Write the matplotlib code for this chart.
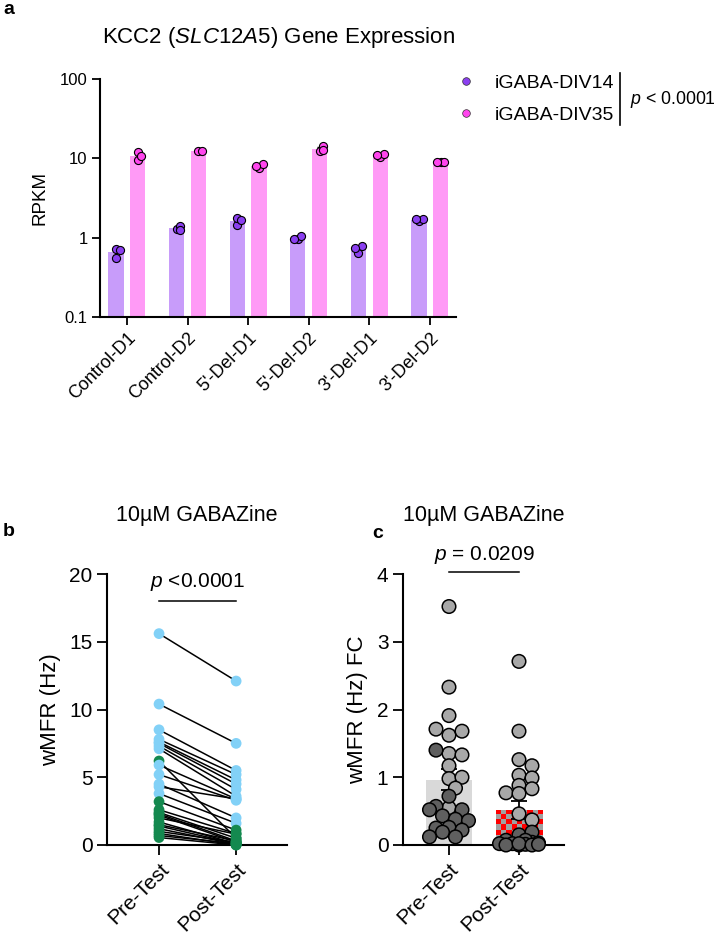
import numpy as np
import matplotlib
matplotlib.use('Agg')
import matplotlib.pyplot as plt
from matplotlib.lines import Line2D

plt.rcParams['font.family'] = ['Liberation Sans', 'DejaVu Sans']
plt.rcParams['mathtext.fontset'] = 'custom'
plt.rcParams['mathtext.rm'] = 'Liberation Sans'
plt.rcParams['mathtext.it'] = 'Liberation Sans:italic'

# ---- panel a : KCC2 expression (RPKM) ----
lines_a = ['Control-D1', 'Control-D2', "5'-Del-D1", "5'-Del-D2", "3'-Del-D1", "3'-Del-D2"]
div14 = [[0.73, 0.70, 0.56],
         [1.29, 1.41, 1.25],
         [1.45, 1.79, 1.68],
         [0.955, 1.05, 0.955],
         [0.65, 0.785, 0.74],
         [1.64, 1.71, 1.71]]
div35 = [[11.9, 9.4, 10.6],
         [12.3, 12.5],
         [7.56, 8.5, 7.9],
         [12.3, 14.5, 12.6],
         [10.4, 11.5, 11.1],
         [9.0, 9.1, 9.1]]

# ---- panel b : paired wMFR (Hz), pre vs post ----
pre_b = [15.6, 10.4, 8.5, 7.8, 7.6, 7.5, 7.3, 7.1, 6.2, 5.9, 5.2, 4.5, 4.3, 3.8,
         3.2, 2.6, 2.4, 2.3, 2.2, 2.0, 1.7, 1.5, 1.4, 1.2, 1.0, 0.85, 0.7, 0.55]
post_b = [12.1, 7.5, 5.5, 5.2, 4.8, 4.5, 4.1, 3.6, 0.5, 3.4, 3.3, 2.0, 3.4, 1.6,
          1.1, 0.85, 0.5, 0.3, 0.2, 0.8, 0.1, 0.3, 0.1, 0.05, 0.2, 0.0, 0.1, 0.0]
pre_b_grp = ['B'] * 8 + ['G'] + ['B'] * 5 + ['G'] * 14
post_b_grp = ['B'] * 8 + ['G'] + ['B'] * 5 + ['G'] * 14

# ---- panel c : wMFR fold change ----
pre_c_light = [3.52, 2.33, 1.91, 1.62, 1.68, 1.71, 1.35, 1.33, 1.17, 0.98, 1.00, 0.84, 0.55]
pre_c_dark = [1.40, 0.72, 0.52, 0.57, 0.52, 0.43, 0.38, 0.36, 0.26, 0.25, 0.22, 0.19, 0.12, 0.12]
post_c_light = [2.71, 1.68, 1.26, 1.17, 1.03, 0.99, 0.88, 0.83, 0.77, 0.76, 0.46, 0.37]
post_c_dark = [0.15, 0.19, 0.07, 0.04, 0.07, 0.0, 0.02, 0.02, 0.03, 0.01, 0.0, 0.02, 0.0, 0.01]

cond = ['Pre-Test', 'Post-Test']

W, H = 720, 933
fig = plt.figure(figsize=(W / 100, H / 100), dpi=100)


def px_axes(l, t, r, b):
    return fig.add_axes([l / W, 1 - b / H, (r - l) / W, (b - t) / H])


def style(ax, size, tlen):
    for s in ['top', 'right']:
        ax.spines[s].set_visible(False)
    for s in ['left', 'bottom']:
        ax.spines[s].set_linewidth(1.5)
    ax.tick_params(direction='out', length=tlen, width=1.3, labelsize=size, pad=3)


def swarm(ax, xc, vals, d, step, kmax):
    # simple beeswarm in display pixels
    pts = ax.transData.transform(np.column_stack([np.full(len(vals), xc), vals]))
    placed = []
    xs = []
    for px, py in pts:
        best, bestd = px, -1
        for k in [0] + [s * i for i in range(1, kmax + 1) for s in (1, -1)]:
            cx = px + k * step
            md = min([np.hypot(cx - qx, py - qy) for qx, qy in placed] + [1e9])
            if md >= d:
                best = cx
                break
            if md > bestd:
                best, bestd = cx, md
        placed.append((best, py))
        xs.append(best)
    back = ax.transData.inverted().transform(np.column_stack([xs, pts[:, 1]]))
    return back[:, 0]


# ================= panel a =================
axA = px_axes(100, 79, 456, 317)
style(axA, 12, 6)
axA.set_yscale('log')
axA.set_ylim(0.1, 100)
axA.set_xlim(-0.445, 5.43)
xa = np.arange(len(lines_a))
off = 0.18
bw = 0.25
c14_bar, c14_dot = '#c89cfa', '#8b3ff0'
c35_bar, c35_dot = '#ff9af6', '#ff45ee'
for vals, sgn, cb, cd in [(div14, -1, c14_bar, c14_dot), (div35, 1, c35_bar, c35_dot)]:
    means = np.array([np.mean(v) for v in vals])
    sems = np.array([np.std(v, ddof=1) / np.sqrt(len(v)) for v in vals])
    axA.bar(xa + sgn * off, means - 0.1, bottom=0.1, width=bw, color=cb, zorder=1)
    axA.errorbar(xa + sgn * off, means, yerr=sems, fmt='none', ecolor='k',
                 elinewidth=1, capsize=2, zorder=2)
    for i, v in enumerate(vals):
        xs = swarm(axA, xa[i] + sgn * off, v, 7, 3.5, 1)
        axA.scatter(xs, v, s=34, color=cd, edgecolor='k', linewidth=0.8, zorder=3)
axA.set_yticks([0.1, 1, 10, 100])
axA.set_yticklabels(['0.1', '1', '10', '100'])
axA.minorticks_off()
axA.set_xticks(xa)
axA.set_xticklabels(lines_a, rotation=45, ha='right', rotation_mode='anchor', fontsize=13)
axA.set_ylabel('RPKM', fontsize=13.5, labelpad=8)
axA.set_title(r'KCC2 ($\mathit{SLC12A5}$) Gene Expression', fontsize=16, pad=26)

handles = [Line2D([], [], marker='o', ls='', mfc=c14_dot, mec='#333333', mew=0.5, ms=5.5),
           Line2D([], [], marker='o', ls='', mfc=c35_dot, mec='#333333', mew=0.5, ms=5.5)]
fig.legend(handles, ['iGABA-DIV14', 'iGABA-DIV35'], loc='center left',
           bbox_to_anchor=(456 / W, 1 - 99 / H), frameon=False, fontsize=14,
           handlelength=1.0, handletextpad=1.0, labelspacing=0.75,
           borderpad=0, borderaxespad=0)
fig.add_artist(Line2D([620 / W, 620 / W], [1 - 73 / H, 1 - 125 / H], color='k', lw=1.2))
fig.text(630 / W, 1 - 99 / H, r'$\mathit{p}$ < 0.0001', fontsize=12.8, va='center', ha='left')

# ================= panel b =================
axB = px_axes(107, 574, 287, 845)
style(axB, 15, 7.5)
axB.set_ylim(0, 20)
axB.set_xlim(-0.675, 1.66)
cmap_b = {'B': '#82d1f7', 'G': '#14894f'}
for p, q in zip(pre_b, post_b):
    axB.plot([0, 1], [p, q], color='k', lw=1.1, zorder=2)
axB.scatter(np.zeros(len(pre_b)), pre_b, s=60, c=[cmap_b[g] for g in pre_b_grp],
            linewidth=0, zorder=3, clip_on=False)
axB.scatter(np.ones(len(post_b)), post_b, s=60, c=[cmap_b[g] for g in post_b_grp],
            linewidth=0, zorder=3, clip_on=False)
axB.set_yticks([0, 5, 10, 15, 20])
axB.set_xticks([0, 1])
axB.set_xticklabels(cond, rotation=45, ha='right', rotation_mode='anchor')
axB.set_ylabel('wMFR (Hz)', fontsize=16, labelpad=6)
axB.set_title('10µM GABAZine', fontsize=15.5, pad=38)
axB.plot([0, 1], [18.0, 18.0], color='k', lw=1.1, clip_on=False)
axB.text(0.5, 18.6, r'$\mathit{p}$ <0.0001', ha='center', va='bottom', fontsize=15)

# ================= panel c =================
axC = px_axes(403, 574, 564, 845)
style(axC, 15, 7.5)
axC.set_ylim(0, 4)
axC.set_xlim(-0.657, 1.643)
pre_all = pre_c_light + pre_c_dark
post_all = post_c_light + post_c_dark
light, dark = '#a8a8a8', '#5f5f5f'
bwc = 0.67
for i, vals in enumerate([pre_all, post_all]):
    m = np.mean(vals)
    se = np.std(vals, ddof=1) / np.sqrt(len(vals))
    bar = axC.bar(i, m, width=bwc, color='#d9d9d9' if i == 0 else '#a0a0a0', zorder=1)[0]
    if i == 1:
        # red / grey checkerboard fill clipped to the bar
        x0, w, h = bar.get_x(), bar.get_width(), bar.get_height()
        pw = axC.transData.transform([(x0, 0), (x0 + w, h)])
        nx = max(1, int(round(abs(pw[1, 0] - pw[0, 0]) / 5.2)))
        ny = max(1, int(round(abs(pw[1, 1] - pw[0, 1]) / 5.2)))
        chk = (np.add.outer(np.arange(ny), np.arange(nx)) % 2).astype(float)
        img = np.zeros((ny, nx, 3))
        img[chk == 0] = [1.0, 0.0, 0.0]
        img[chk == 1] = [0.63, 0.63, 0.63]
        im = axC.imshow(img, extent=(x0, x0 + w, 0, h), origin='lower',
                        aspect='auto', interpolation='nearest', zorder=1.5)
        im.set_clip_path(bar)
    axC.errorbar(i, m, yerr=se, fmt='none', ecolor='k', elinewidth=1.3,
                 capsize=6, capthick=1.3, zorder=2)
axC.set_xlim(-0.657, 1.643)
axC.set_ylim(0, 4)
for i, (lt, dk) in enumerate([(pre_c_light, pre_c_dark), (post_c_light, post_c_dark)]):
    vals = lt + dk
    cols = [light] * len(lt) + [dark] * len(dk)
    xs = swarm(axC, i, vals, 10, 6.5, 3)
    axC.scatter(xs, vals, s=95, c=cols, edgecolor='k', linewidth=1.1, zorder=3, clip_on=False)
axC.set_yticks([0, 1, 2, 3, 4])
axC.set_xticks([0, 1])
axC.set_xticklabels(cond, rotation=45, ha='right', rotation_mode='anchor')
axC.set_ylabel('wMFR (Hz) FC', fontsize=16, labelpad=6)
axC.set_title('10µM GABAZine', fontsize=15.5, pad=38)
axC.plot([0, 1], [4.03, 4.03], color='k', lw=1.1, clip_on=False)
axC.text(0.5, 4.12, r'$\mathit{p}$ = 0.0209', ha='center', va='bottom', fontsize=15)

# panel letters
fig.text(3 / W, 1 - 1 / H, 'a', fontsize=14, fontweight='bold', va='top')
fig.text(3 / W, 1 - 532 / H, 'b', fontsize=14, fontweight='bold', va='center')
fig.text(372 / W, 1 - 533 / H, 'c', fontsize=14, fontweight='bold', va='center')

fig.savefig('out.png', dpi=100)
